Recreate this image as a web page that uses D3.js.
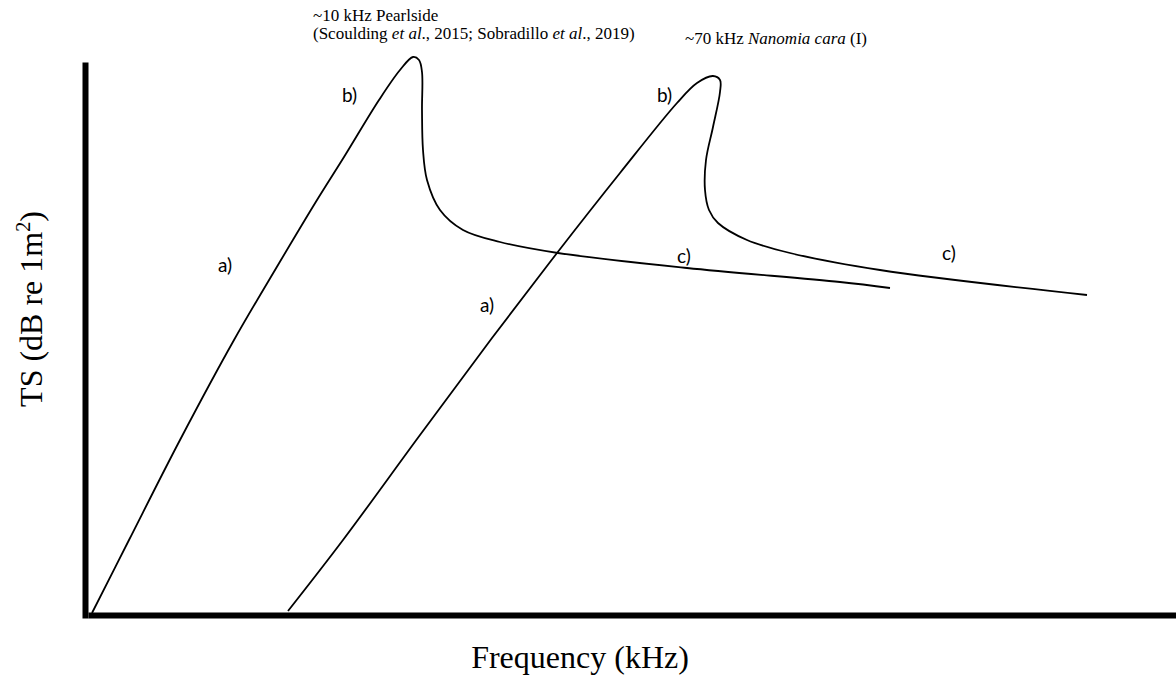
<!DOCTYPE html>
<html>
<head>
<meta charset="utf-8">
<script src="https://cdn.jsdelivr.net/npm/d3@7"></script>
<style>
  html, body { margin: 0; padding: 0; background: #fff; }
  svg { display: block; }
</style>
</head>
<body>
<svg id="chart" width="1176" height="675"></svg>
<script>
// Schematic TS-vs-frequency response curves (arbitrary units)
// a) Rayleigh region, b) resonance peak, c) geometric region

// Pearlside curve (~10 kHz resonance)
const pearlsideFreq = [4, 41, 92, 146, 190, 229, 256, 291, 312, 325, 331, 334, 334, 335, 339, 352, 375, 412, 470, 599, 752, 802];
const pearlsideTS   = [2, 75, 175, 275, 350, 415, 458, 515, 545, 558, 555, 543, 505, 465, 435, 405, 385, 373, 362, 347, 333, 327];

// Nanomia cara curve (~70 kHz resonance)
const nanomiaFreq = [200, 255, 332, 404, 469, 532, 589, 609, 625, 632, 632, 625, 618, 617, 621, 630, 659, 702, 792, 999];
const nanomiaTS   = [4, 75, 180, 277, 362, 442, 512, 532, 539, 535, 523, 488, 455, 425, 405, 392, 375, 362, 345, 320];

// Region labels on each curve
const regionLabels = ["a)", "b)", "c)", "a)", "b)", "c)"];
const regionLabelFreq = [130, 254, 589, 392, 569, 854];
const regionLabelTS   = [343, 513, 352, 303, 513, 355];

// Annotations above the peaks
const noteLines = ["~10 kHz Pearlside", "(Scoulding et al., 2015; Sobradillo et al., 2019)", "~70 kHz Nanomia cara (I)"];
const noteFreq = [225, 225, 597];
const noteTS   = [594, 576, 571];

const axisTitleX = "Frequency (kHz)";
const axisTitleY = "TS (dB re 1m²)";

const xDomain = [0, 1088];
const yDomain = [0, 560];
const yAxisTop = 553;

const svg = d3.select("#chart");

const x = d3.scaleLinear().domain(xDomain).range([88, 1176]);
const y = d3.scaleLinear().domain(yDomain).range([615, 55]);

// Axes: bare heavy lines, no ticks
const xAxis = d3.axisBottom(x).tickValues([]).tickSizeOuter(0);
const gx = svg.append("g").attr("transform", `translate(0,${y(0)})`).call(xAxis);
gx.select(".domain").attr("stroke", "#000").attr("stroke-width", 6);

const yAxisScale = d3.scaleLinear().domain([0, yAxisTop]).range([y(0) + 3, y(yAxisTop)]);
const yAxis = d3.axisLeft(yAxisScale).tickValues([]).tickSizeOuter(0);
const gy = svg.append("g").attr("transform", `translate(${x(0) - 3},0)`).call(yAxis);
gy.select(".domain").attr("stroke", "#000").attr("stroke-width", 6);

// Curves
const line = d3.line()
  .x(d => x(d[0]))
  .y(d => y(d[1]))
  .curve(d3.curveCatmullRom.alpha(0.5));

const curves = [
  d3.zip(pearlsideFreq, pearlsideTS),
  d3.zip(nanomiaFreq, nanomiaTS)
];

svg.append("g").selectAll("path")
  .data(curves)
  .join("path")
  .attr("d", line)
  .attr("fill", "none")
  .attr("stroke", "#000")
  .attr("stroke-width", 1.8);

// Region labels
svg.append("g").selectAll("text")
  .data(regionLabels)
  .join("text")
  .attr("x", (d, i) => x(regionLabelFreq[i]))
  .attr("y", (d, i) => y(regionLabelTS[i]))
  .attr("font-family", "Lato, 'Open Sans', sans-serif")
  .attr("font-size", 19)
  .attr("fill", "#000")
  .text(d => d);

// Peak annotations (serif, with italic parts)
const notes = svg.append("g")
  .attr("font-family", "'Liberation Serif', 'Times New Roman', serif")
  .attr("font-size", 17)
  .attr("fill", "#000");

function richText(sel, parts) {
  parts.forEach(p => {
    sel.append("tspan").attr("font-style", p.i ? "italic" : "normal").text(p.t);
  });
}

richText(notes.append("text").attr("x", x(noteFreq[0])).attr("y", y(noteTS[0])),
  [{t: noteLines[0]}]);
richText(notes.append("text").attr("x", x(noteFreq[1])).attr("y", y(noteTS[1])),
  [{t: "(Scoulding "}, {t: "et al", i: true}, {t: "., 2015; Sobradillo "}, {t: "et al", i: true}, {t: "., 2019)"}]);
richText(notes.append("text").attr("x", x(noteFreq[2])).attr("y", y(noteTS[2])),
  [{t: "~70 kHz "}, {t: "Nanomia cara", i: true}, {t: " (I)"}]);

// Axis titles
svg.append("text")
  .attr("x", 580)
  .attr("y", 668)
  .attr("text-anchor", "middle")
  .attr("font-family", "'Liberation Serif', 'Times New Roman', serif")
  .attr("font-size", 32)
  .attr("fill", "#000")
  .text(axisTitleX);

const yt = svg.append("text")
  .attr("transform", "translate(42,309) rotate(-90)")
  .attr("text-anchor", "middle")
  .attr("font-family", "'Liberation Serif', 'Times New Roman', serif")
  .attr("font-size", 32)
  .attr("fill", "#000");
yt.append("tspan").text("TS (dB re 1m");
yt.append("tspan").attr("font-size", 20).attr("dy", -12).text("2");
yt.append("tspan").attr("dy", 12).text(")");
</script>
</body>
</html>
